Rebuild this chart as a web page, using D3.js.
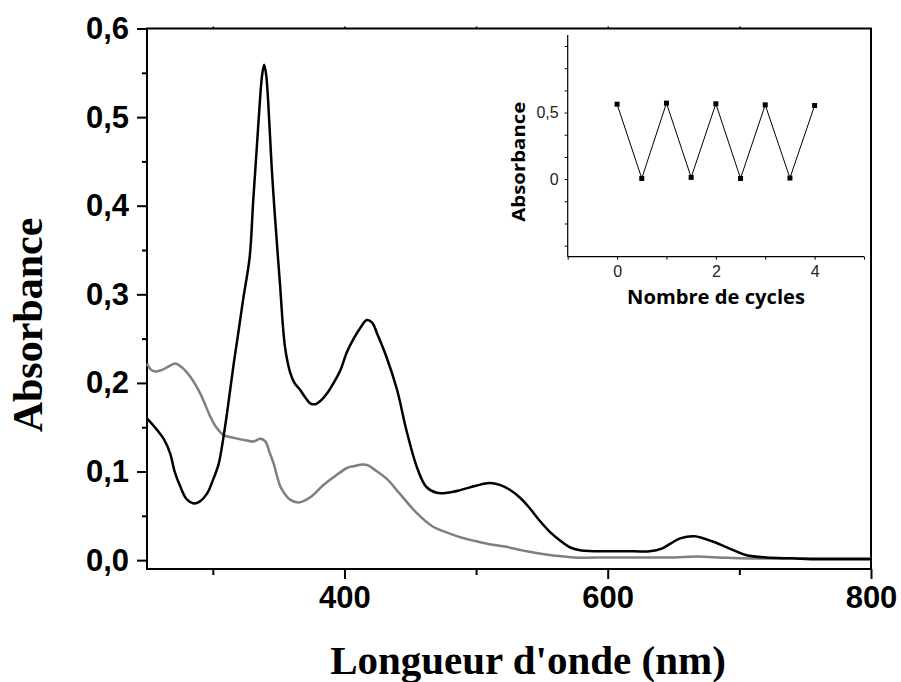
<!DOCTYPE html>
<html>
<head>
<meta charset="utf-8">
<script src="https://cdn.jsdelivr.net/npm/d3@7"></script>
<style>
  body { margin: 0; background: #fff; }
  svg { display: block; }
</style>
</head>
<body>
<svg id="chart"></svg>
<script>
// Spectra (wavelength in nm, absorbance)
const blackWl = [250, 257.6, 263, 267.7, 271, 275.3, 280, 285.5, 290, 295.6, 300, 304.5, 308, 310.8, 315.9, 319.7, 323, 328, 330.7, 333.3, 335.8, 337.5, 339, 340.5, 342, 344.7, 347.2, 351, 354.8, 358.9, 362, 366.4, 370, 374, 378, 382, 386.7, 391, 396.8, 401.9, 407, 412, 417, 421, 425, 432, 440, 447, 455, 462, 470, 478, 488, 500, 510, 518, 525, 533, 540, 548, 556, 564, 572, 580, 600, 620, 632, 641, 648, 655, 666, 680.2, 695.4, 705.5, 720.7, 740, 760, 780, 800];
const blackAbs = [0.160, 0.147, 0.136, 0.120, 0.100, 0.083, 0.069, 0.064, 0.066, 0.075, 0.090, 0.109, 0.138, 0.166, 0.222, 0.260, 0.294, 0.342, 0.406, 0.463, 0.519, 0.548, 0.559, 0.548, 0.519, 0.444, 0.388, 0.312, 0.241, 0.211, 0.200, 0.192, 0.184, 0.177, 0.176, 0.180, 0.188, 0.198, 0.214, 0.235, 0.250, 0.262, 0.271, 0.268, 0.255, 0.229, 0.192, 0.147, 0.105, 0.083, 0.076, 0.076, 0.079, 0.084, 0.087, 0.085, 0.080, 0.071, 0.060, 0.045, 0.032, 0.022, 0.014, 0.011, 0.010, 0.010, 0.010, 0.013, 0.019, 0.0245, 0.027, 0.0207, 0.0113, 0.0056, 0.003, 0.002, 0.001, 0.001, 0.001];

const grayWl = [250, 253, 256.3, 262, 267, 271.5, 277, 282.9, 290.5, 298.1, 303, 308.3, 316, 326, 331, 336.1, 339.9, 343, 346.2, 351.3, 355, 358.9, 365.2, 374, 384.2, 393, 401.9, 407, 414, 418, 422, 432, 442, 455, 467, 480, 490, 498, 510, 523, 535, 548, 560, 575, 600, 625, 650, 668, 685, 700, 750, 800];
const grayAbs = [0.222, 0.215, 0.213, 0.215, 0.219, 0.222, 0.217, 0.207, 0.188, 0.162, 0.149, 0.141, 0.138, 0.135, 0.134, 0.137, 0.134, 0.122, 0.109, 0.083, 0.074, 0.068, 0.065, 0.071, 0.085, 0.095, 0.104, 0.106, 0.108, 0.107, 0.103, 0.092, 0.075, 0.053, 0.038, 0.030, 0.025, 0.022, 0.018, 0.015, 0.011, 0.0075, 0.005, 0.003, 0.003, 0.003, 0.003, 0.004, 0.003, 0.002, 0.002, 0.002];

// Inset: absorbance over switching cycles
const cycles = [0, 0.5, 1, 1.5, 2, 2.5, 3, 3.5, 4];
const cycleAbs = [0.563, 0.005, 0.571, 0.013, 0.566, 0.005, 0.558, 0.008, 0.553];

// Tick values and labels
const xTicks = [400, 600, 800];
const xTickLabels = ['400', '600', '800'];
const yTicks = [0, 0.1, 0.2, 0.3, 0.4, 0.5, 0.6];
const yTickLabels = ['0,0', '0,1', '0,2', '0,3', '0,4', '0,5', '0,6'];
const insetXTicks = [0, 2, 4];
const insetXTickLabels = ['0', '2', '4'];
const insetYTicks = [0, 0.5];
const insetYTickLabels = ['0', '0,5'];

const width = 901, height = 682;

const svg = d3.select('#chart')
  .attr('width', width)
  .attr('height', height)
  .attr('viewBox', [0, 0, width, height]);

//
// Main chart
//
const pLeft = 147, pRight = 871, pTop = 28.5, pBottom = 569;

const x = d3.scaleLinear([250, 800], [pLeft, pRight]);
const y = d3.scaleLinear([-0.01, 0.6], [pBottom, pTop]);

// frame
svg.append('rect')
  .attr('x', pLeft).attr('y', pTop)
  .attr('width', pRight - pLeft).attr('height', pBottom - pTop)
  .attr('fill', 'none').attr('stroke', '#000').attr('stroke-width', 2);

// bottom axis
const xAxis = svg.append('g')
  .attr('transform', `translate(0,${pBottom})`)
  .call(d3.axisBottom(x).tickValues(xTicks).tickSize(10).tickPadding(7)
    .tickFormat((d, i) => xTickLabels[i]));
xAxis.select('.domain').remove();
xAxis.selectAll('line').attr('stroke-width', 2);
xAxis.selectAll('text')
  .attr('font-family', '"Liberation Sans", Arial, sans-serif')
  .attr('font-weight', 'bold').attr('font-size', 31).attr('fill', '#000');

svg.append('g')
  .attr('transform', `translate(0,${pBottom})`)
  .call(d3.axisBottom(x).tickValues([300, 500, 700]).tickSize(6).tickFormat(''))
  .call(g => g.select('.domain').remove())
  .selectAll('line').attr('stroke-width', 2);

// top tiny ticks
svg.append('g')
  .attr('transform', `translate(0,${pTop})`)
  .call(d3.axisTop(x).tickValues([300, 400, 500, 600, 700]).tickSize(2).tickFormat(''))
  .call(g => g.select('.domain').remove())
  .selectAll('line').attr('stroke-width', 1.5);

// left axis
const yAxis = svg.append('g')
  .attr('transform', `translate(${pLeft},0)`)
  .call(d3.axisLeft(y).tickValues(yTicks).tickSize(10).tickPadding(8)
    .tickFormat((d, i) => yTickLabels[i]));
yAxis.select('.domain').remove();
yAxis.selectAll('line').attr('stroke-width', 2);
yAxis.selectAll('text')
  .attr('font-family', '"Liberation Sans", Arial, sans-serif')
  .attr('font-weight', 'bold').attr('font-size', 31).attr('fill', '#000');

svg.append('g')
  .attr('transform', `translate(${pLeft},0)`)
  .call(d3.axisLeft(y).tickValues([0.05, 0.15, 0.25, 0.35, 0.45, 0.55]).tickSize(5).tickFormat(''))
  .call(g => g.select('.domain').remove())
  .selectAll('line').attr('stroke-width', 2);

// axis titles
svg.append('text')
  .attr('x', 528).attr('y', 674)
  .attr('text-anchor', 'middle')
  .attr('font-family', '"Liberation Serif", "Times New Roman", serif')
  .attr('font-weight', 'bold').attr('font-size', 41)
  .text("Longueur d'onde (nm)");

svg.append('text')
  .attr('transform', 'translate(42,325) rotate(-90)')
  .attr('text-anchor', 'middle')
  .attr('font-family', '"Liberation Serif", "Times New Roman", serif')
  .attr('font-weight', 'bold').attr('font-size', 42)
  .text('Absorbance');

// spectra
const line = d3.line()
  .x(d => x(d[0]))
  .y(d => y(d[1]))
  .curve(d3.curveCatmullRom.alpha(0.5));

svg.append('path')
  .datum(d3.zip(grayWl, grayAbs))
  .attr('fill', 'none').attr('stroke', '#7f7f7f').attr('stroke-width', 2.5)
  .attr('d', line);

svg.append('path')
  .datum(d3.zip(blackWl, blackAbs))
  .attr('fill', 'none').attr('stroke', '#000').attr('stroke-width', 2.5)
  .attr('d', line);

//
// Inset
//
const iLeft = 567.7, iRight = 864, iTop = 35, iBottom = 256.7;
const ix = d3.scaleLinear([-1, 5], [iLeft, iRight]);
const iy = d3.scaleLinear([-0.583, 1.083], [iBottom, iTop]);

const inset = svg.append('g');

const ixAxis = inset.append('g')
  .attr('transform', `translate(0,${iBottom})`)
  .call(d3.axisBottom(ix).tickValues(d3.range(-1, 6)).tickSize(3).tickPadding(6)
    .tickFormat(d => {
      const k = insetXTicks.indexOf(d);
      return k < 0 ? '' : insetXTickLabels[k];
    }));
ixAxis.select('.domain').attr('d', `M${iLeft},0H${iRight}`).attr('stroke-width', 1.2);
ixAxis.selectAll('text')
  .attr('font-family', '"Liberation Sans", Arial, sans-serif')
  .attr('font-size', 16).attr('fill', '#222');

const iyAxis = inset.append('g')
  .attr('transform', `translate(${iLeft},0)`)
  .call(d3.axisLeft(iy).tickValues(d3.range(-3, 7).map(k => k / 6)).tickSize(3).tickPadding(6)
    .tickFormat(d => {
      const k = insetYTicks.findIndex(v => Math.abs(v - d) < 1e-6);
      return k < 0 ? '' : insetYTickLabels[k];
    }));
iyAxis.select('.domain').attr('d', `M0,${iBottom}V${iTop}`).attr('stroke-width', 1.2);
iyAxis.selectAll('text')
  .attr('font-family', '"Liberation Sans", Arial, sans-serif')
  .attr('font-size', 16).attr('fill', '#222');

inset.append('text')
  .attr('x', 716).attr('y', 304)
  .attr('text-anchor', 'middle')
  .attr('font-family', '"Open Sans", Lato, sans-serif')
  .attr('font-weight', 'bold').attr('font-size', 19)
  .attr('textLength', 178).attr('lengthAdjust', 'spacingAndGlyphs')
  .text('Nombre de cycles');

inset.append('text')
  .attr('transform', 'translate(525,161.7) rotate(-90)')
  .attr('text-anchor', 'middle')
  .attr('font-family', '"Open Sans", Lato, sans-serif')
  .attr('font-weight', 'bold').attr('font-size', 18)
  .attr('textLength', 120).attr('lengthAdjust', 'spacingAndGlyphs')
  .text('Absorbance');

const cyclePts = d3.zip(cycles, cycleAbs);

inset.append('path')
  .datum(cyclePts)
  .attr('fill', 'none').attr('stroke', '#000').attr('stroke-width', 1)
  .attr('d', d3.line().x(d => ix(d[0])).y(d => iy(d[1])));

inset.append('g')
  .selectAll('rect')
  .data(cyclePts)
  .join('rect')
    .attr('x', d => ix(d[0]) - 2.5)
    .attr('y', d => iy(d[1]) - 2.5)
    .attr('width', 5)
    .attr('height', 5)
    .attr('fill', '#000');
</script>
</body>
</html>
